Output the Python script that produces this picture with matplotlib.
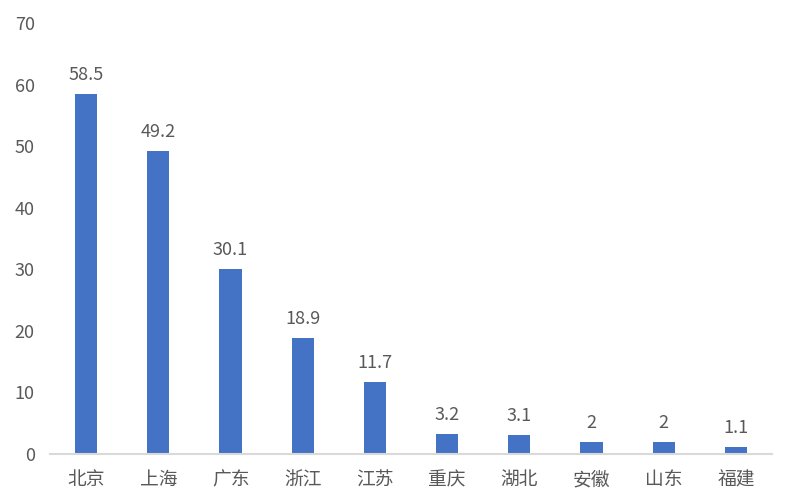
import matplotlib.pyplot as plt

plt.rcParams['font.family'] = ['Noto Sans CJK SC', 'DejaVu Sans']

regions = ['北京', '上海', '广东', '浙江', '江苏', '重庆', '湖北', '安徽', '山东', '福建']
values = [58.5, 49.2, 30.1, 18.9, 11.7, 3.2, 3.1, 2, 2, 1.1]
value_labels = ['58.5', '49.2', '30.1', '18.9', '11.7', '3.2', '3.1', '2', '2', '1.1']

fig = plt.figure(figsize=(7.96, 5.04), dpi=100)
ax = fig.add_axes([50 / 796, 1 - 454 / 504, 722 / 796, 431 / 504])

x = range(len(regions))
bars = ax.bar(x, values, width=0.31, color='#4472C4')
for b, lab in zip(bars, value_labels):
    ax.text(b.get_x() + b.get_width() / 2, b.get_height() + 1.6, lab,
            ha='center', va='bottom', fontsize=13, color='#595959')

ax.set_xlim(-0.5, len(regions) - 0.5)
ax.set_ylim(0, 70)
ax.set_yticks(range(0, 71, 10))
ax.set_xticks(list(x))
ax.set_xticklabels(regions, fontsize=13.5)
ax.tick_params(axis='both', length=0, colors='#595959')
ax.tick_params(axis='y', labelsize=13, pad=11)
ax.tick_params(axis='x', pad=11)
for s in ['top', 'right', 'left']:
    ax.spines[s].set_visible(False)
ax.spines['bottom'].set_color('#D9D9D9')
ax.spines['bottom'].set_linewidth(1.5)

fig.savefig('out.png', dpi=100)
